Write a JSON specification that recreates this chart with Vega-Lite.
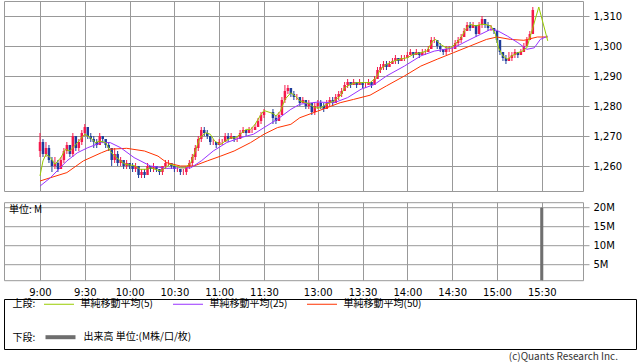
{
"$schema":"https://vega.github.io/schema/vega-lite/v6.json",
"padding":{"left":3,"top":0,"right":0,"bottom":0},
"spacing":-1.5,
"config":{"font":"DejaVu Sans","view":{"stroke":"#999999"},"axis":{"gridColor":"#999999","gridOpacity":1,"gridWidth":1,"labelFont":"DejaVu Sans","labelFontSize":10,"labelColor":"#000000","domain":false,"ticks":false,"labelOverlap":false}},
"datasets":{
"candles":[
{"p":0,"o":1265,"h":1271,"l":1263,"c":1268},{"p":2,"o":1268,"h":1269,"l":1263,"c":1264},{"p":4,"o":1264,"h":1268,"l":1263,"c":1266},{"p":6,"o":1266,"h":1267,"l":1261,"c":1262},{"p":8,"o":1262,"h":1263,"l":1258,"c":1260},{"p":10,"o":1260,"h":1263,"l":1259,"c":1261},{"p":12,"o":1261,"h":1262,"l":1258,"c":1259},{"p":14,"o":1259,"h":1263,"l":1259,"c":1262},{"p":16,"o":1262,"h":1266,"l":1261,"c":1265},{"p":18,"o":1265,"h":1268,"l":1264,"c":1267},
{"p":20,"o":1267,"h":1267,"l":1263,"c":1264},{"p":22,"o":1264,"h":1271,"l":1263,"c":1270},{"p":24,"o":1270,"h":1270,"l":1265,"c":1266},{"p":26,"o":1266,"h":1269,"l":1265,"c":1268},{"p":28,"o":1268,"h":1272,"l":1267,"c":1271},{"p":30,"o":1271,"h":1274,"l":1270,"c":1273},{"p":32,"o":1273,"h":1273,"l":1269,"c":1270},{"p":34,"o":1270,"h":1271,"l":1268,"c":1269},{"p":36,"o":1269,"h":1270,"l":1266,"c":1268},{"p":38,"o":1268,"h":1269,"l":1266,"c":1267},
{"p":40,"o":1267,"h":1271,"l":1267,"c":1270},{"p":42,"o":1270,"h":1270,"l":1268,"c":1269},{"p":44,"o":1269,"h":1269,"l":1266,"c":1267},{"p":46,"o":1267,"h":1268,"l":1265,"c":1266},{"p":48,"o":1266,"h":1266,"l":1260,"c":1262},{"p":50,"o":1262,"h":1266,"l":1261,"c":1264},{"p":52,"o":1264,"h":1265,"l":1260,"c":1261},{"p":54,"o":1261,"h":1263,"l":1260,"c":1262},{"p":56,"o":1262,"h":1262,"l":1259,"c":1260},{"p":58,"o":1260,"h":1262,"l":1259,"c":1261},
{"p":60,"o":1261,"h":1261,"l":1259,"c":1260},{"p":62,"o":1260,"h":1261,"l":1258,"c":1259},{"p":64,"o":1259,"h":1261,"l":1258,"c":1260},{"p":66,"o":1260,"h":1260,"l":1256,"c":1257},{"p":68,"o":1257,"h":1259,"l":1256,"c":1258},{"p":70,"o":1258,"h":1259,"l":1256,"c":1257},{"p":72,"o":1257,"h":1261,"l":1257,"c":1260},{"p":74,"o":1260,"h":1260,"l":1258,"c":1259},{"p":76,"o":1259,"h":1261,"l":1258,"c":1260},{"p":78,"o":1260,"h":1260,"l":1258,"c":1259},
{"p":80,"o":1259,"h":1259,"l":1257,"c":1258},{"p":82,"o":1258,"h":1260,"l":1257,"c":1260},{"p":84,"o":1260,"h":1262,"l":1259,"c":1261},{"p":86,"o":1261,"h":1262,"l":1260,"c":1261},{"p":88,"o":1261,"h":1261,"l":1259,"c":1260},{"p":90,"o":1260,"h":1260,"l":1258,"c":1259},{"p":92,"o":1259,"h":1260,"l":1258,"c":1259},{"p":94,"o":1259,"h":1259,"l":1257,"c":1258},{"p":96,"o":1258,"h":1259,"l":1257,"c":1258},{"p":98,"o":1258,"h":1260,"l":1257,"c":1260},
{"p":100,"o":1260,"h":1262,"l":1259,"c":1261},{"p":102,"o":1261,"h":1264,"l":1260,"c":1263},{"p":104,"o":1263,"h":1267,"l":1262,"c":1266},{"p":106,"o":1266,"h":1270,"l":1265,"c":1269},{"p":108,"o":1269,"h":1273,"l":1268,"c":1272},{"p":110,"o":1272,"h":1273,"l":1270,"c":1271},{"p":112,"o":1271,"h":1272,"l":1269,"c":1270},{"p":114,"o":1270,"h":1270,"l":1267,"c":1268},{"p":116,"o":1268,"h":1269,"l":1267,"c":1268},{"p":118,"o":1268,"h":1268,"l":1266,"c":1267},
{"p":120,"o":1267,"h":1269,"l":1267,"c":1268},{"p":122,"o":1268,"h":1269,"l":1267,"c":1268},{"p":124,"o":1268,"h":1271,"l":1268,"c":1270},{"p":126,"o":1270,"h":1271,"l":1268,"c":1269},{"p":128,"o":1269,"h":1271,"l":1269,"c":1270},{"p":130,"o":1270,"h":1270,"l":1268,"c":1269},{"p":132,"o":1269,"h":1270,"l":1268,"c":1269},{"p":134,"o":1269,"h":1272,"l":1269,"c":1271},{"p":136,"o":1271,"h":1273,"l":1271,"c":1272},{"p":138,"o":1272,"h":1272,"l":1270,"c":1271},
{"p":140,"o":1271,"h":1273,"l":1271,"c":1272},{"p":142,"o":1272,"h":1273,"l":1271,"c":1272},{"p":144,"o":1272,"h":1274,"l":1272,"c":1273},{"p":146,"o":1273,"h":1276,"l":1273,"c":1275},{"p":148,"o":1275,"h":1278,"l":1274,"c":1277},{"p":150,"o":1277,"h":1279,"l":1276,"c":1278},
{"p":156,"o":1278,"h":1279,"l":1274,"c":1276},{"p":158,"o":1276,"h":1277,"l":1274,"c":1275},{"p":160,"o":1275,"h":1278,"l":1275,"c":1277},{"p":162,"o":1277,"h":1283,"l":1277,"c":1282},{"p":164,"o":1282,"h":1287,"l":1281,"c":1285},{"p":166,"o":1285,"h":1287,"l":1284,"c":1286},{"p":168,"o":1286,"h":1286,"l":1283,"c":1284},{"p":170,"o":1284,"h":1285,"l":1282,"c":1283},{"p":172,"o":1283,"h":1284,"l":1282,"c":1283},{"p":174,"o":1283,"h":1283,"l":1280,"c":1281},
{"p":176,"o":1281,"h":1283,"l":1281,"c":1282},{"p":178,"o":1282,"h":1282,"l":1279,"c":1280},{"p":180,"o":1280,"h":1282,"l":1279,"c":1281},{"p":182,"o":1281,"h":1281,"l":1277,"c":1278},{"p":184,"o":1278,"h":1281,"l":1277,"c":1280},{"p":186,"o":1280,"h":1282,"l":1279,"c":1281},{"p":188,"o":1281,"h":1282,"l":1279,"c":1280},{"p":190,"o":1280,"h":1281,"l":1278,"c":1279},{"p":192,"o":1279,"h":1282,"l":1279,"c":1281},{"p":194,"o":1281,"h":1283,"l":1280,"c":1282},
{"p":196,"o":1282,"h":1283,"l":1280,"c":1281},{"p":198,"o":1281,"h":1284,"l":1281,"c":1283},{"p":200,"o":1283,"h":1285,"l":1282,"c":1284},{"p":202,"o":1284,"h":1286,"l":1283,"c":1285},{"p":204,"o":1285,"h":1288,"l":1285,"c":1287},{"p":206,"o":1287,"h":1289,"l":1286,"c":1288},{"p":208,"o":1288,"h":1288,"l":1286,"c":1287},{"p":210,"o":1287,"h":1289,"l":1287,"c":1288},{"p":212,"o":1288,"h":1288,"l":1286,"c":1287},{"p":214,"o":1287,"h":1289,"l":1287,"c":1288},
{"p":216,"o":1288,"h":1288,"l":1286,"c":1287},{"p":218,"o":1287,"h":1288,"l":1286,"c":1287},{"p":220,"o":1287,"h":1289,"l":1287,"c":1288},{"p":222,"o":1288,"h":1288,"l":1286,"c":1287},{"p":224,"o":1287,"h":1290,"l":1287,"c":1289},{"p":226,"o":1289,"h":1293,"l":1289,"c":1292},{"p":228,"o":1292,"h":1294,"l":1291,"c":1293},{"p":230,"o":1293,"h":1295,"l":1292,"c":1294},{"p":232,"o":1294,"h":1295,"l":1292,"c":1293},{"p":234,"o":1293,"h":1295,"l":1293,"c":1294},
{"p":236,"o":1294,"h":1296,"l":1294,"c":1295},{"p":238,"o":1295,"h":1297,"l":1294,"c":1296},{"p":240,"o":1296,"h":1296,"l":1294,"c":1295},{"p":242,"o":1295,"h":1297,"l":1295,"c":1296},{"p":244,"o":1296,"h":1297,"l":1295,"c":1296},{"p":246,"o":1296,"h":1298,"l":1296,"c":1297},{"p":248,"o":1297,"h":1299,"l":1297,"c":1298},{"p":250,"o":1298,"h":1298,"l":1296,"c":1297},{"p":252,"o":1297,"h":1299,"l":1297,"c":1298},{"p":254,"o":1298,"h":1298,"l":1296,"c":1297},
{"p":256,"o":1297,"h":1299,"l":1297,"c":1298},{"p":258,"o":1298,"h":1299,"l":1297,"c":1298},{"p":260,"o":1298,"h":1300,"l":1298,"c":1299},{"p":262,"o":1299,"h":1303,"l":1299,"c":1302},{"p":264,"o":1302,"h":1303,"l":1301,"c":1302},{"p":266,"o":1302,"h":1302,"l":1299,"c":1300},{"p":268,"o":1300,"h":1301,"l":1298,"c":1299},{"p":270,"o":1299,"h":1299,"l":1297,"c":1298},{"p":272,"o":1298,"h":1300,"l":1297,"c":1299},{"p":274,"o":1299,"h":1300,"l":1298,"c":1299},
{"p":276,"o":1299,"h":1300,"l":1298,"c":1299},{"p":278,"o":1299,"h":1302,"l":1299,"c":1301},{"p":280,"o":1301,"h":1303,"l":1300,"c":1302},{"p":282,"o":1302,"h":1304,"l":1301,"c":1303},{"p":284,"o":1303,"h":1306,"l":1303,"c":1305},{"p":286,"o":1305,"h":1308,"l":1305,"c":1307},{"p":288,"o":1307,"h":1308,"l":1305,"c":1306},{"p":290,"o":1306,"h":1308,"l":1306,"c":1307},{"p":292,"o":1307,"h":1307,"l":1303,"c":1304},{"p":294,"o":1304,"h":1308,"l":1304,"c":1307},
{"p":296,"o":1307,"h":1310,"l":1306,"c":1309},{"p":298,"o":1309,"h":1309,"l":1306,"c":1307},{"p":300,"o":1307,"h":1308,"l":1305,"c":1306},{"p":302,"o":1306,"h":1307,"l":1305,"c":1306},{"p":304,"o":1306,"h":1306,"l":1304,"c":1305},{"p":306,"o":1305,"h":1305,"l":1301,"c":1302},{"p":308,"o":1302,"h":1302,"l":1297,"c":1298},{"p":310,"o":1298,"h":1298,"l":1295,"c":1296},{"p":312,"o":1296,"h":1297,"l":1294,"c":1295},{"p":314,"o":1295,"h":1298,"l":1295,"c":1296},
{"p":316,"o":1296,"h":1298,"l":1295,"c":1297},{"p":318,"o":1297,"h":1299,"l":1296,"c":1298},{"p":320,"o":1298,"h":1298,"l":1296,"c":1297},{"p":322,"o":1297,"h":1299,"l":1297,"c":1298},{"p":324,"o":1298,"h":1301,"l":1298,"c":1300},{"p":326,"o":1300,"h":1303,"l":1300,"c":1302},{"p":328,"o":1302,"h":1305,"l":1302,"c":1304},{"p":330,"o":1304,"h":1313,"l":1304,"c":1312}
],
"ma5":[
{"p":0,"v":1256.7},{"p":2,"v":1261.7},{"p":4,"v":1263.9},{"p":7,"v":1262.8},{"p":10,"v":1260.6},{"p":14,"v":1262.8},{"p":17,"v":1265.6},{"p":20,"v":1265},{"p":24,"v":1267.2},{"p":27,"v":1268.9},{"p":30,"v":1270.6},{"p":34,"v":1269.4},{"p":37,"v":1267.8},{"p":40,"v":1268.3},{"p":44,"v":1267.8},{"p":47,"v":1265},{"p":50,"v":1263.3},{"p":54,"v":1261.7},{"p":57,"v":1260.6},{"p":61,"v":1260.3},{"p":64,"v":1260},{"p":67,"v":1258.9},{"p":71,"v":1258.9},{"p":74,"v":1259.4},{"p":77,"v":1258.9},{"p":81,"v":1258.3},{"p":84,"v":1259.4},{"p":87,"v":1260.6},{"p":91,"v":1260},{"p":94,"v":1259.4},{"p":97,"v":1259.4},{"p":101,"v":1261.1},{"p":104,"v":1265},{"p":107,"v":1269.4},{"p":111,"v":1271.1},{"p":114,"v":1270.6},{"p":117,"v":1268.3},{"p":121,"v":1267.2},{"p":124,"v":1268.3},{"p":128,"v":1269.4},{"p":131,"v":1269.4},{"p":134,"v":1270.6},{"p":138,"v":1272.2},{"p":141,"v":1272.2},{"p":144,"v":1273.9},{"p":148,"v":1277.2},{"p":150,"v":1278.5},
{"p":156,"v":1277.5},{"p":158,"v":1276.7},{"p":161,"v":1278.3},{"p":164,"v":1282.2},{"p":168,"v":1284.4},{"p":171,"v":1283.3},{"p":174,"v":1281.7},{"p":178,"v":1281.1},{"p":181,"v":1280.6},{"p":184,"v":1279.4},{"p":188,"v":1279.4},{"p":192,"v":1280.6},{"p":197,"v":1281.7},{"p":201,"v":1283.3},{"p":204,"v":1286.1},{"p":208,"v":1287.2},{"p":212,"v":1287.8},{"p":217,"v":1287.8},{"p":221,"v":1287.8},{"p":225,"v":1289.4},{"p":228,"v":1292.2},{"p":232,"v":1293.9},{"p":237,"v":1295},{"p":241,"v":1295.6},{"p":246,"v":1296.1},{"p":250,"v":1297.2},{"p":255,"v":1297.8},{"p":259,"v":1298.3},{"p":263,"v":1301.7},{"p":265,"v":1302.2},{"p":268,"v":1300.6},{"p":272,"v":1299.4},{"p":275,"v":1299.4},{"p":278,"v":1300.6},{"p":282,"v":1302.8},{"p":285,"v":1305.6},{"p":288,"v":1307.2},{"p":292,"v":1306.7},{"p":295,"v":1307.2},{"p":298,"v":1307.2},{"p":302,"v":1306.7},{"p":305,"v":1303.9},{"p":307,"v":1299.4},{"p":310,"v":1296.7},{"p":313,"v":1295.6},{"p":316,"v":1296.7},{"p":320,"v":1297.8},{"p":323,"v":1298.3},{"p":326,"v":1299.4},{"p":330,"v":1306.1},{"p":334,"v":1313},{"p":340,"v":1301.7}
],
"ma25":[
{"p":0,"v":1253.3},{"p":7,"v":1256.1},{"p":18,"v":1261.7},{"p":25,"v":1264.4},{"p":32,"v":1266.1},{"p":41,"v":1267.8},{"p":47,"v":1267.8},{"p":54,"v":1266.1},{"p":63,"v":1262.8},{"p":74,"v":1260},{"p":85,"v":1259.2},{"p":94,"v":1259.4},{"p":101,"v":1259.4},{"p":108,"v":1261.7},{"p":116,"v":1265},{"p":125,"v":1267.8},{"p":134,"v":1269.4},{"p":143,"v":1270.6},{"p":150,"v":1272.8},{"p":159,"v":1275.6},{"p":168,"v":1278.9},{"p":174,"v":1280.6},{"p":186,"v":1281.3},{"p":197,"v":1281.1},{"p":206,"v":1282.8},{"p":215,"v":1285.6},{"p":224,"v":1287.2},{"p":232,"v":1290},{"p":244,"v":1293.3},{"p":255,"v":1296.7},{"p":264,"v":1298.3},{"p":277,"v":1299.4},{"p":286,"v":1301.7},{"p":295,"v":1303.9},{"p":302,"v":1305.6},{"p":306,"v":1305.2},{"p":313,"v":1303.3},{"p":320,"v":1301.1},{"p":326,"v":1298.9},{"p":331,"v":1299.4},{"p":335,"v":1302.2},{"p":340,"v":1303.3}
],
"ma50":[
{"p":0,"v":1255},{"p":7,"v":1256.1},{"p":18,"v":1257.8},{"p":29,"v":1261.7},{"p":41,"v":1264.4},{"p":47,"v":1265.6},{"p":58,"v":1265.9},{"p":70,"v":1265},{"p":79,"v":1263.3},{"p":85,"v":1261.1},{"p":94,"v":1260},{"p":103,"v":1260},{"p":112,"v":1261.7},{"p":121,"v":1263.3},{"p":130,"v":1265},{"p":141,"v":1267.8},{"p":150,"v":1270.6},{"p":159,"v":1272.8},{"p":168,"v":1273.9},{"p":174,"v":1276.1},{"p":186,"v":1278.3},{"p":201,"v":1281.1},{"p":210,"v":1282.2},{"p":221,"v":1283.6},{"p":232,"v":1286.7},{"p":244,"v":1290},{"p":255,"v":1293.3},{"p":266,"v":1295.6},{"p":277,"v":1297.8},{"p":288,"v":1300},{"p":299,"v":1302.2},{"p":306,"v":1303},{"p":315,"v":1302.2},{"p":324,"v":1301.9},{"p":333,"v":1303},{"p":340,"v":1303}
],
"volume":[{"p":336,"v":19.8}]
},
"vconcat":[
{"bounds":"flush","spacing":11.2,"vconcat":[
{"width":579,"height":190,
"layer":[
{"data":{"name":"candles"},"mark":{"type":"rule","strokeWidth":1},
"encoding":{"x":{"field":"p","type":"quantitative","scale":{"domain":[-24.1,363.6],"nice":false,"zero":false,"padding":0},"axis":{"title":null,"labels":false,"grid":true,"tickCount":20,"values":[0,30,60,90,120,150,186,216,246,276,306,336]}},
"y":{"field":"l","type":"quantitative","scale":{"domain":[1251.67,1315],"nice":false,"zero":false,"padding":0},"axis":{"title":null,"orient":"right","values":[1260,1270,1280,1290,1300,1310],"tickCount":10,"format":",.0f","labelOverlap":false,"labelBound":false,"grid":true,"ticks":true,"tickSize":6,"tickColor":"#999999","labelPadding":4}},
"y2":{"field":"h"},
"color":{"condition":{"test":"datum.c >= datum.o","value":"#f5194b"},"value":"#1e3c9b"}}},
{"data":{"name":"candles"},"mark":{"type":"bar","size":2.5,"orient":"vertical"},
"encoding":{"x":{"field":"p","type":"quantitative"},"y":{"field":"o","type":"quantitative"},"y2":{"field":"c"},
"color":{"condition":{"test":"datum.c >= datum.o","value":"#f5194b"},"value":"#1e3c9b"}}},
{"data":{"name":"ma50"},"mark":{"type":"line","strokeWidth":1},
"encoding":{"x":{"field":"p","type":"quantitative"},"y":{"field":"v","type":"quantitative"},
"color":{"datum":"単純移動平均(50)","scale":{"domain":["単純移動平均(5)","単純移動平均(25)","単純移動平均(50)"],"range":["#99cc00","#9933ff","#ff3300"]},
"legend":{"orient":"none","legendX":8.5,"legendY":297.5,"direction":"horizontal","title":"上段:","titleOrient":"left","titlePadding":8,"titleFont":"Noto Sans CJK JP","titleFontSize":10,"titleFontWeight":"normal","titleColor":"#000000","labelFont":"Noto Sans CJK JP","labelFontSize":10,"labelColor":"#000000","symbolType":"M-1,0H5","symbolSize":100,"symbolStrokeWidth":1,"symbolFillColor":"transparent","labelOffset":26,"columnPadding":17,"padding":0}}}},
{"data":{"name":"ma25"},"mark":{"type":"line","strokeWidth":1},
"encoding":{"x":{"field":"p","type":"quantitative"},"y":{"field":"v","type":"quantitative"},"color":{"datum":"単純移動平均(25)"}}},
{"data":{"name":"ma5"},"mark":{"type":"line","strokeWidth":1},
"encoding":{"x":{"field":"p","type":"quantitative"},"y":{"field":"v","type":"quantitative"},"color":{"datum":"単純移動平均(5)"}}}
]},
{"width":579,"height":78,"data":{"name":"volume"},
"mark":{"type":"bar","size":2,"clip":true,"fill":"#6e6e6e","strokeWidth":1},
"encoding":{"x":{"field":"p","type":"quantitative","scale":{"domain":[-24.1,363.6],"nice":false,"zero":false,"padding":0},
"axis":{"title":null,"grid":true,"tickCount":20,"values":[0,30,60,90,120,150,186,216,246,276,306,336],"labelPadding":7.5,"labelExpr":"(9 + floor((datum.value < 153 ? datum.value : datum.value + 54) / 60)) + ':' + (((datum.value < 153 ? datum.value : datum.value + 54) % 60) < 10 ? '00' : '30')"}},
"y":{"field":"v","type":"quantitative","scale":{"domain":[0.75,21.35],"nice":false,"zero":false,"padding":0},
"axis":{"orient":"right","values":[5,10,15,20],"tickCount":10,"labelExpr":"datum.value + 'M'","grid":true,"ticks":true,"tickSize":6,"tickColor":"#999999","labelPadding":4,"title":"単位: M","titleAngle":0,"titleX":-574.5,"titleY":7.3,"titleAlign":"left","titleBaseline":"middle","titleFont":"Noto Sans CJK JP","titleFontSize":10,"titleFontWeight":"normal","titleColor":"#000000"}},
"stroke":{"datum":"出来高 単位:(M株/口/枚)","scale":{"range":["#6e6e6e"]},
"legend":{"orient":"none","legendX":8.5,"legendY":329.2,"direction":"horizontal","title":"下段:","titleOrient":"left","titlePadding":8,"titleFont":"Noto Sans CJK JP","titleFontSize":10,"titleFontWeight":"normal","titleColor":"#000000","labelFont":"Noto Sans CJK JP","labelFontSize":10,"labelColor":"#000000","symbolType":"M-1,0H5","symbolSize":100,"symbolStrokeWidth":4,"symbolFillColor":"transparent","labelOffset":26,"padding":0}}}}
]},
{"width":632,"height":50,"view":{"stroke":"#000000"},"data":{"values":[]},"mark":"point","encoding":{},
"title":{"text":"(c)Quants Research Inc.","orient":"bottom","anchor":"end","font":"Noto Sans CJK JP","fontSize":10,"fontWeight":"normal","color":"#333333","offset":3,"dx":-18}}
]
}
